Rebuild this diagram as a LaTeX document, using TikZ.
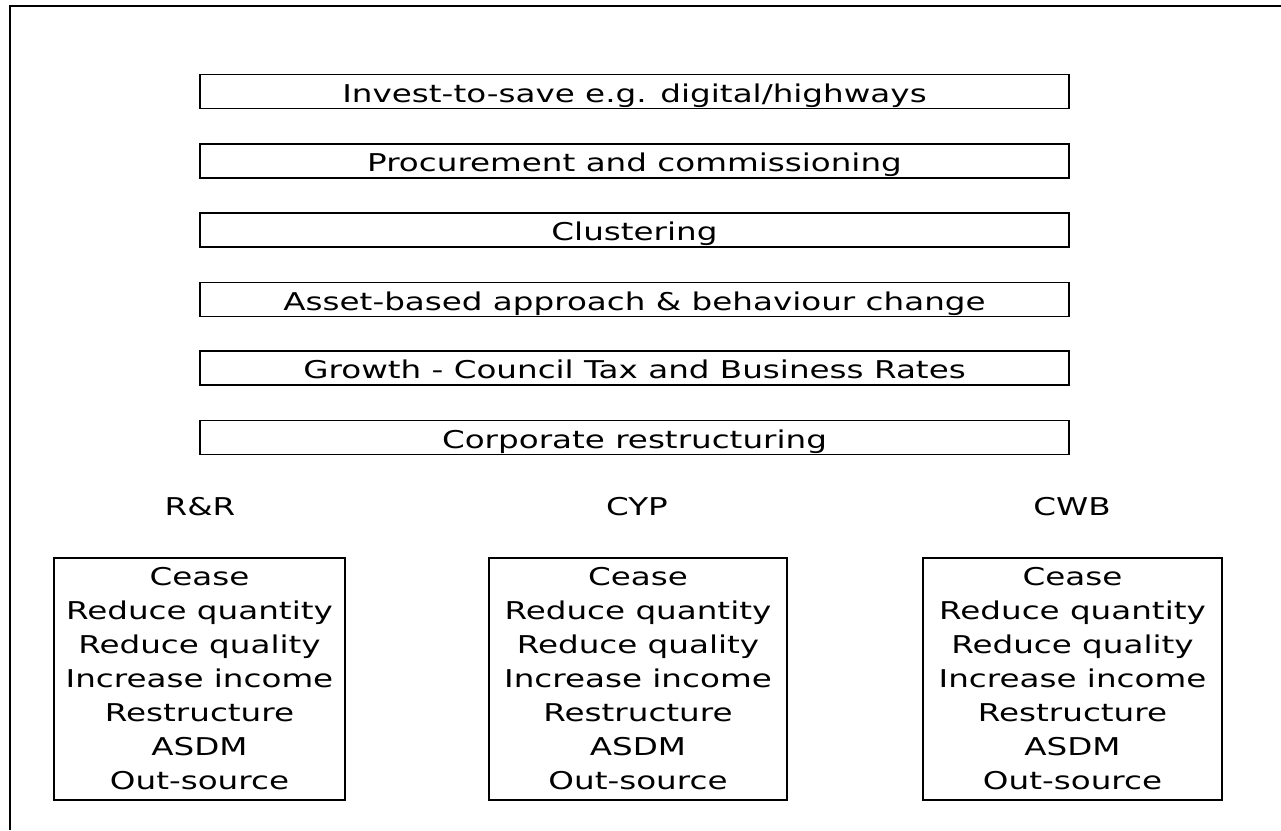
\documentclass[tikz,border=0pt]{standalone}
\usepackage{fontspec}
\setmainfont{DejaVu Sans}[FakeStretch=1.33]
\begin{document}
\begin{tikzpicture}[x=1pt,y=-1pt,
  txt/.style={font=\fontsize{24.5}{34}\selectfont, inner sep=0pt},
  barbox/.style={draw, line width=1.8pt, minimum width=869pt, minimum height=34pt, text height=21pt, text depth=0pt, txt},
  listbox/.style={draw, line width=1.8pt, minimum height=242pt, align=center, txt},
  head/.style={txt}]
\useasboundingbox (0,0) rectangle (1281,830);
\coordinate (fbl) at (10,830);
\coordinate (ftl) at (10,6);
\coordinate (ftr) at (1281,6);
\draw[line width=2.2pt] (fbl) -- (ftl) -- (ftr);
\node[barbox] (b1) at (634.5,91.5) {Invest-to-save e.g. digital/highways};
\node[barbox] (b2) at (634.5,161) {Procurement and commissioning};
\node[barbox] (b3) at (634.5,230) {Clustering};
\node[barbox] (b4) at (634.5,299.5) {Asset-based approach \& behaviour change};
\node[barbox] (b5) at (634.5,368) {Growth - Council Tax and Business Rates};
\node[barbox] (b6) at (634.5,437.5) {Corporate restructuring};
\node[head] (h1) at (200,507) {R\&R};
\node[head] (h2) at (637,507) {CYP};
\node[head] (h3) at (1072,507) {CWB};
\node[listbox, minimum width=291pt] (l1) at (199.5,679) {Cease\\Reduce quantity\\Reduce quality\\Increase income\\Restructure\\ASDM\\Out-source};
\node[listbox, minimum width=298pt] (l2) at (638,679) {Cease\\Reduce quantity\\Reduce quality\\Increase income\\Restructure\\ASDM\\Out-source};
\node[listbox, minimum width=299pt] (l3) at (1072.5,679) {Cease\\Reduce quantity\\Reduce quality\\Increase income\\Restructure\\ASDM\\Out-source};
\end{tikzpicture}
\end{document}
